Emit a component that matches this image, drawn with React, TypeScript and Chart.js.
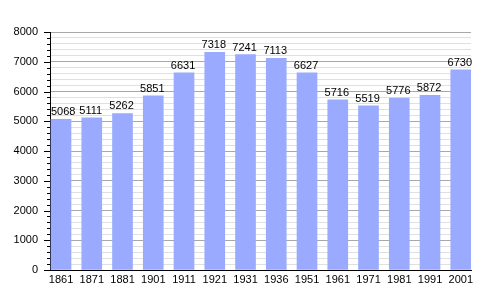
import React, { useEffect, useRef } from "react";
import { Chart, registerables } from "chart.js";

Chart.register(...registerables);

const years = ["1861", "1871", "1881", "1901", "1911", "1921", "1931", "1936", "1951", "1961", "1971", "1981", "1991", "2001"];
const population = [5068, 5111, 5262, 5851, 6631, 7318, 7241, 7113, 6627, 5716, 5519, 5776, 5872, 6730];
const yMin = 0;
const yMax = 8000;
const yStep = 200;
const yLabelStep = 1000;

const FONT = "'Liberation Sans', Arial, sans-serif";

const tickMarks = {
  id: "tickMarks",
  afterDraw(chart: any) {
    const ys = chart.scales.y;
    const ctx = chart.ctx;
    const left = chart.chartArea.left;
    ctx.save();
    ctx.strokeStyle = "#000";
    ctx.lineWidth = 1;
    ctx.beginPath();
    ys.ticks.forEach((t: any) => {
      const y = Math.round(ys.getPixelForValue(t.value)) + 0.5;
      const len = t.value % yLabelStep === 0 ? 6 : 3;
      ctx.moveTo(left - len, y);
      ctx.lineTo(left, y);
    });
    ctx.stroke();
    ctx.restore();
  },
};

const valueLabels = {
  id: "valueLabels",
  afterDatasetsDraw(chart: any) {
    const ctx = chart.ctx;
    const meta = chart.getDatasetMeta(0);
    const left = chart.chartArea.left;
    ctx.save();
    ctx.font = `11px ${FONT}`;
    ctx.fillStyle = "#000";
    ctx.textAlign = "center";
    ctx.textBaseline = "alphabetic";
    meta.data.forEach((bar: any, i: number) => {
      const txt = String(population[i]);
      const w = ctx.measureText(txt).width;
      const x = Math.max(bar.x - 1, left + 1 + w / 2);
      ctx.fillText(txt, x, bar.y - 4);
    });
    ctx.restore();
  },
};

export default function App() {
  const ref = useRef<HTMLCanvasElement>(null);
  useEffect(() => {
    if (!ref.current) return;
    const chart = new Chart(ref.current, {
      type: "bar",
      data: {
        datasets: [
          {
            data: population.map((v, i) => ({ x: i, y: v })),
            backgroundColor: "#99aaff",
            borderWidth: 0,
            barThickness: 20,
          },
        ],
      },
      options: {
        responsive: false,
        animation: false,
        events: [],
        layout: { padding: { top: 32, right: 29, left: 0, bottom: 0 } },
        plugins: { legend: { display: false }, tooltip: { enabled: false } },
        scales: {
          x: {
            type: "linear",
            offset: false,
            min: -0.358,
            max: 13.333,
            grid: { display: false, drawTicks: false, offset: false },
            border: { display: true, color: "#000", width: 1 },
            afterBuildTicks: (scale: any) => {
              scale.ticks = years.map((_, i) => ({ value: i }));
            },
            afterFit: (scale: any) => {
              scale.height = 30;
            },
            ticks: {
              autoSkip: false,
              maxRotation: 0,
              padding: 3,
              color: "#000",
              font: { family: FONT, size: 11 },
              callback: (v: any) => years[v as number] ?? "",
            },
          },
          y: {
            min: yMin,
            max: yMax,
            grid: {
              drawTicks: false,
              color: (c: any) => (c.tick && c.tick.value % yLabelStep === 0 ? "#a8a8a8" : "#e0e0e0"),
              lineWidth: 1,
            },
            border: { display: true, color: "#000", width: 1 },
            afterFit: (scale: any) => {
              scale.width = 50;
            },
            ticks: {
              stepSize: yStep,
              maxTicksLimit: 100,
              autoSkip: false,
              padding: 12,
              color: "#000",
              font: { family: FONT, size: 11 },
              callback: (v: any) => (Number(v) % yLabelStep === 0 ? String(v) : ""),
            },
          },
        },
      },
      plugins: [tickMarks, valueLabels],
    } as any);
    return () => chart.destroy();
  }, []);
  return (
    <div style={{ position: "fixed", left: 0, top: 0, width: 500, height: 300, background: "#fff" }}>
      <canvas ref={ref} width={500} height={300} style={{ display: "block" }} />
    </div>
  );
}
